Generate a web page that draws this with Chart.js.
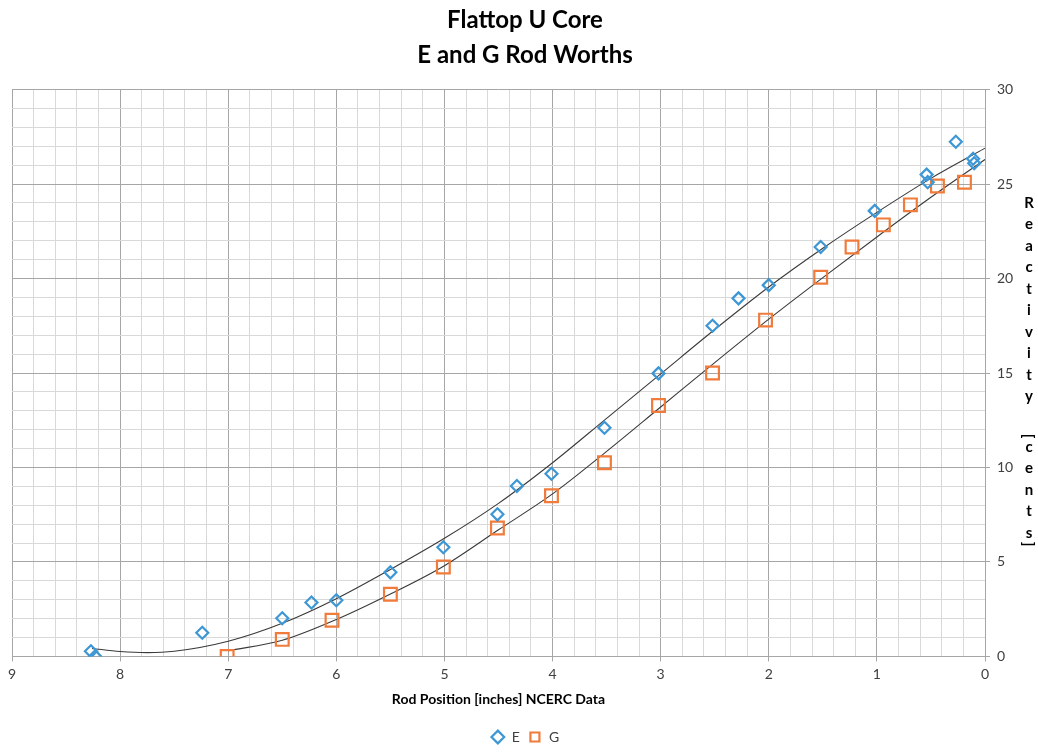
<!DOCTYPE html>
<html><head><meta charset="utf-8">
<script src="https://cdn.jsdelivr.net/npm/chart.js@4"></script>
<style>html,body{margin:0;padding:0;background:#fff}#wrap{width:1038px;height:754px}</style>
</head><body><div id="wrap"><canvas id="c" width="1038" height="754"></canvas></div>
<script>
// Measured data (rod position in inches, reactivity in cents)
const eX = [8.27, 8.23, 7.24, 6.50, 6.23, 6.00, 5.50, 5.01, 4.51, 4.33, 4.01, 3.52, 3.02, 2.52, 2.28, 2.00, 1.52, 1.02, 0.54, 0.53, 0.27, 0.11, 0.10];
const eY = [0.27, 0.00, 1.25, 2.02, 2.85, 2.97, 4.45, 5.78, 7.52, 9.02, 9.67, 12.10, 14.98, 17.50, 18.95, 19.65, 21.67, 23.58, 25.50, 25.10, 27.24, 26.34, 26.10];
const gX = [7.01, 6.50, 6.04, 5.50, 5.01, 4.51, 4.01, 3.52, 3.02, 2.52, 2.03, 1.52, 1.23, 0.94, 0.69, 0.44, 0.19];
const gY = [0.00, 0.90, 1.91, 3.29, 4.73, 6.80, 8.50, 10.25, 13.28, 15.00, 17.80, 20.07, 21.67, 22.84, 23.90, 24.90, 25.10];
// Trend lines
const eTrendX = [8.26, 8.0, 7.75, 7.5, 7.0, 6.5, 6.0, 5.5, 5.0, 4.5, 4.0, 3.5, 3.0, 2.5, 2.0, 1.5, 1.0, 0.5, 0.0];
const eTrendY = [0.42, 0.26, 0.20, 0.27, 0.80, 1.75, 3.05, 4.60, 6.25, 8.10, 10.25, 12.60, 14.95, 17.30, 19.55, 21.60, 23.50, 25.30, 26.90];
const gTrendX = [7.0, 6.5, 6.0, 5.5, 5.0, 4.5, 4.0, 3.5, 3.0, 2.5, 2.0, 1.5, 1.0, 0.5, 0.0];
const gTrendY = [0.30, 0.85, 1.95, 3.30, 4.80, 6.70, 8.60, 10.85, 13.20, 15.55, 17.85, 20.05, 22.20, 24.30, 26.30];
const seriesNames = ['E', 'G'];
const titleLines = ['Flattop U Core', 'E and G Rod Worths'];
const xTitle = 'Rod Position [inches] NCERC Data';
const yTitle = 'Reactivity [cents]';

const pts = (xs, ys) => xs.map((x, i) => ({x, y: ys[i]}));
const MAJOR = '#a6a6a6', MINOR = '#d9d9d9';
const isInt = v => Math.abs(v - Math.round(v)) < 1e-6;
const isFive = v => isInt(v) && Math.round(v) % 5 === 0;

const stackedTitle = {
  id: 'stackedTitle',
  afterDraw(chart) {
    const ctx = chart.ctx;
    ctx.save();
    ctx.font = 'bold 15px Lato';
    ctx.fillStyle = '#000';
    ctx.textAlign = 'center';
    ctx.textBaseline = 'middle';
    const cx = 1029;
    let y = 203;
    const chars = yTitle.split('');
    chars.forEach((ch, i) => {
      if (ch === '[' || ch === ']') {
        ctx.save();
        ctx.translate(cx, y);
        ctx.rotate(Math.PI / 2);
        ctx.fillText(ch, 0, 0);
        ctx.restore();
      } else if (ch !== ' ') {
        ctx.fillText(ch, cx, y);
      }
      const nxt = chars[i + 1];
      y += (ch === '[' || ch === ']' || nxt === '[' || nxt === ']') ? (ch === ' ' ? 18 : 11) : 21.5;
    });
    ctx.restore();
  }
};

new Chart(document.getElementById('c'), {
  type: 'scatter',
  data: {
    datasets: [
      {label: seriesNames[0], data: pts(eX, eY), pointStyle: 'rectRot', pointRadius: 6, pointHoverRadius: 6,
       borderColor: '#3d97d5', backgroundColor: 'rgba(255,255,255,0)', pointBorderWidth: 2.2, borderWidth: 2.2},
      {label: seriesNames[1], data: pts(gX, gY), pointStyle: 'rect', pointRadius: 9, pointHoverRadius: 9,
       borderColor: '#f07b3b', backgroundColor: 'rgba(255,255,255,0)', pointBorderWidth: 2.2, borderWidth: 2.2},
      {label: 'trendE', data: pts(eTrendX, eTrendY), showLine: true, pointRadius: 0, borderColor: '#3a3a3a',
       borderWidth: 1.1, cubicInterpolationMode: 'monotone', fill: false},
      {label: 'trendG', data: pts(gTrendX, gTrendY), showLine: true, pointRadius: 0, borderColor: '#3a3a3a',
       borderWidth: 1.1, cubicInterpolationMode: 'monotone', fill: false}
    ]
  },
  options: {
    responsive: false,
    animation: false,
    devicePixelRatio: 1,
    layout: {padding: {left: 12, right: 0, top: 0, bottom: 0}},
    plugins: {
      title: {display: true, text: titleLines, color: '#000', font: {family: 'Lato', size: 24, weight: 'bold', lineHeight: 1.45},
              padding: {top: 3, bottom: 17}},
      legend: {position: 'bottom',
        labels: {usePointStyle: true, boxHeight: 9, padding: 8, color: '#404040', font: {family: 'Lato', size: 14},
                 filter: item => item.datasetIndex < 2}},
      tooltip: {enabled: false}
    },
    scales: {
      x: {type: 'linear', reverse: true, min: 0, max: 9,
        ticks: {stepSize: 0.2, autoSkip: false, maxRotation: 0, color: '#404040', font: {family: 'Lato', size: 14}, padding: 5,
                callback: v => isInt(v) ? String(Math.round(v)) : ''},
        grid: {color: c => (c.tick && isInt(c.tick.value)) ? MAJOR : MINOR,
               tickColor: c => (c.tick && isInt(c.tick.value)) ? MAJOR : 'rgba(0,0,0,0)', tickLength: 5, lineWidth: 1},
        border: {color: MAJOR},
        title: {display: true, text: xTitle, color: '#000', font: {family: 'Lato', size: 14, weight: 'bold'}, padding: {top: 3, bottom: 14}}
      },
      y: {type: 'linear', position: 'right', min: 0, max: 30,
        ticks: {stepSize: 1, autoSkip: false, color: '#404040', font: {family: 'Lato', size: 14}, padding: 7,
                callback: v => isFive(v) ? String(Math.round(v)) : ''},
        grid: {color: c => (c.tick && isFive(c.tick.value)) ? MAJOR : MINOR,
               tickColor: c => (c.tick && isFive(c.tick.value)) ? MAJOR : 'rgba(0,0,0,0)', tickLength: 5, lineWidth: 1},
        border: {color: MAJOR},
        afterFit: s => { s.width = 53; }
      }
    }
  },
  plugins: [stackedTitle]
});
</script>
</body></html>
